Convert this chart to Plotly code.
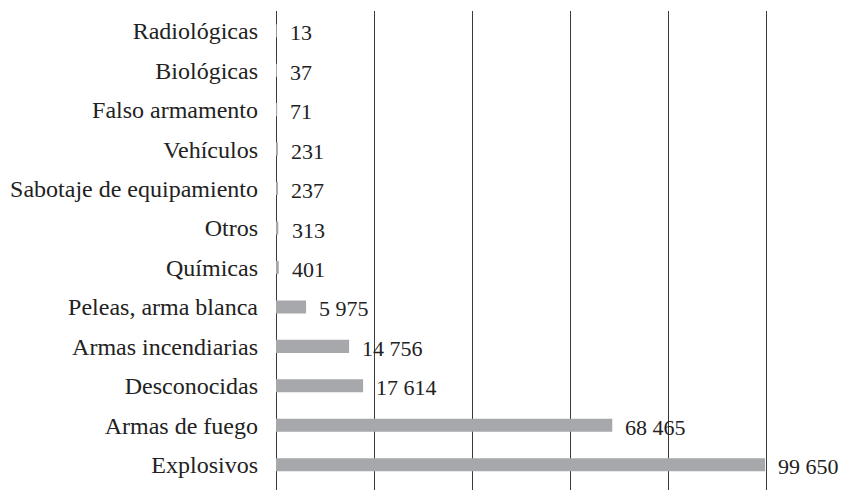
import plotly.graph_objects as go

CATEGORIES = ["Explosivos", "Armas de fuego", "Desconocidas", "Armas incendiarias",
              "Peleas, arma blanca", "Químicas", "Otros", "Sabotaje de equipamiento",
              "Vehículos", "Falso armamento", "Biológicas", "Radiológicas"]
VALUES = [99650, 68465, 17614, 14756, 5975, 401, 313, 237, 231, 71, 37, 13]

BAR_COLOR = "#a7a8ab"
GRID_COLOR = "#3a3a3a"
FONT = "Liberation Serif"


def fmt(v):
    return f"{v:,}".replace(",", " ")


fig = go.Figure(go.Bar(
    x=VALUES, y=CATEGORIES, orientation="h", width=0.29,
    marker=dict(color=BAR_COLOR, line=dict(color=BAR_COLOR, width=1.6)),
    hoverinfo="skip"))

for cat, v in zip(CATEGORIES, VALUES):
    fig.add_annotation(x=v, y=cat, text=fmt(v), showarrow=False,
                       xanchor="left", xshift=12, yshift=-2,
                       font=dict(family=FONT, size=22, color="#222"))

fig.update_layout(
    width=854, height=490, margin=dict(l=276, r=39, t=11, b=0),
    paper_bgcolor="white", plot_bgcolor="white", showlegend=False,
    font=dict(family=FONT, color="#222"),
    xaxis=dict(range=[0, 110000], dtick=20000, tick0=0, showticklabels=False,
               showgrid=True, gridcolor=GRID_COLOR, gridwidth=1,
               zeroline=True, zerolinecolor=GRID_COLOR, zerolinewidth=1,
               showline=False, fixedrange=True, automargin=False),
    yaxis=dict(type="category", categoryorder="array", categoryarray=CATEGORIES,
               range=[-0.64, 11.5], showgrid=False, zeroline=False, showline=False,
               ticks="", ticklabelstandoff=17, automargin=False,
               tickfont=dict(family=FONT, size=24, color="#222"),
               fixedrange=True),
)

# the page's default 8px body margin would shift the figure; remove it
fig.write_html("out.html", config={"displayModeBar": False},
               post_script="document.body.style.margin='0';")
